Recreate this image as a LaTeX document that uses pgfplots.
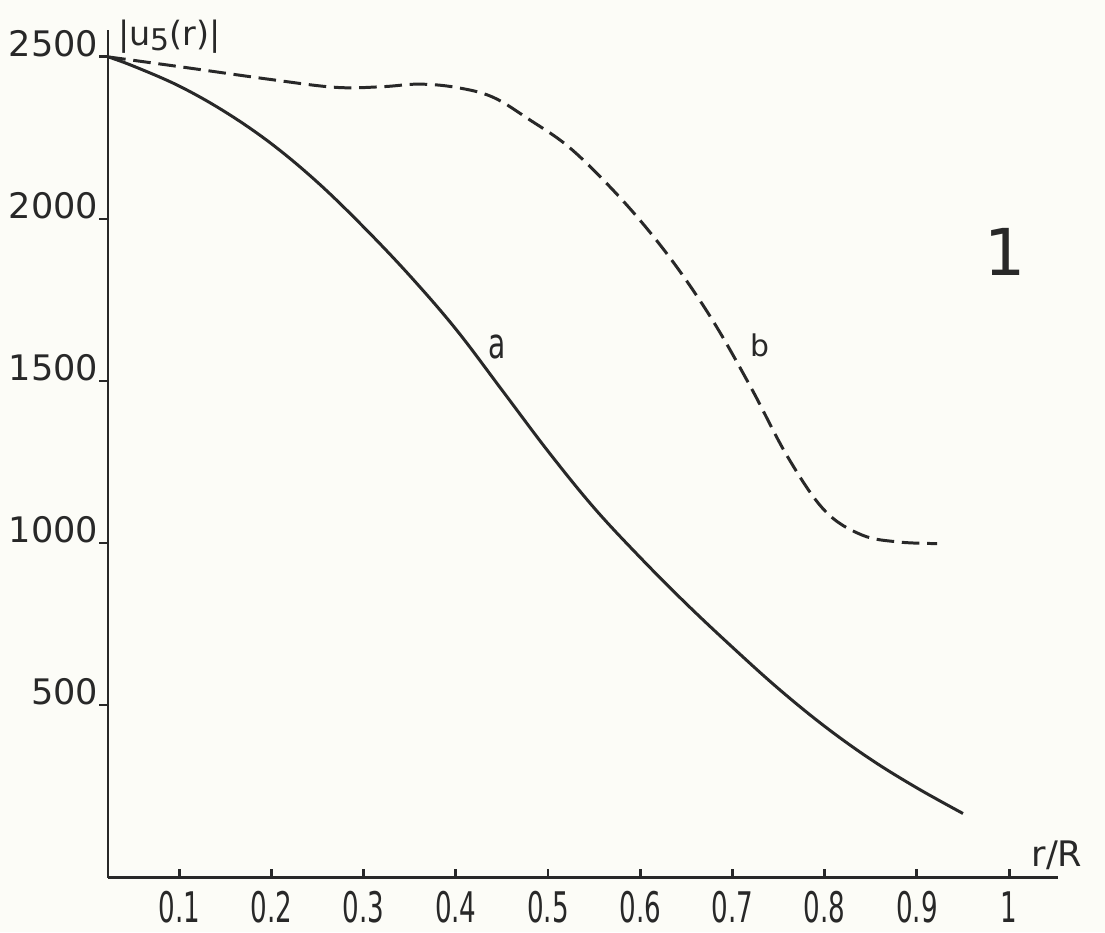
\documentclass[border=0pt]{standalone}
\usepackage{fontspec}
\setmainfont{DejaVu Sans}
\usepackage{pgfplots}
\pgfplotsset{compat=1.18}
\usetikzlibrary{backgrounds}
\definecolor{ink}{RGB}{40,40,40}
\definecolor{paper}{RGB}{252,252,247}

\begin{document}
\begin{tikzpicture}
\begin{axis}[
  scale only axis, width=9.5cm, height=8.48cm,
  xmin=0.0228, xmax=1.053, ymin=-34, ymax=2583,
  axis lines=left, axis line style={-, ink, line width=0.85pt},
  xtick={0.1,0.2,0.3,0.4,0.5,0.6,0.7,0.8,0.9,1},
  ytick={500,1000,1500,2000,2500},
  tick align=inside, major tick length=0.09cm,
  tick style={ink, line width=0.8pt},
  ytick style={xshift=-0.09cm},
  /pgf/number format/assume math mode=true,
  /pgf/number format/1000 sep={},
  scaled ticks=false,
  xticklabel={\scalebox{0.62}[1]{\pgfmathprintnumber{\tick}}},
  xticklabel style={font=\fontsize{12}{14}\selectfont, anchor=north, inner sep=0pt, yshift=-0.13cm, text=ink},
  yticklabel style={font=\fontsize{10}{12}\selectfont, anchor=base east, inner sep=0pt, xshift=-0.09cm, text=ink},
  clip=false
]
% curve a (solid)
\addplot[ink, line width=0.85pt, smooth, tension=0.6] coordinates {
  (0.023,2500) (0.05,2472) (0.10,2410) (0.15,2330) (0.20,2232)
  (0.25,2113) (0.30,1975) (0.35,1825) (0.40,1660) (0.45,1472)
  (0.50,1283) (0.55,1108) (0.60,955) (0.65,812) (0.70,678)
  (0.75,550) (0.80,434) (0.85,332) (0.90,244) (0.95,165)
};
% curve b (dashed)
\addplot[ink, line width=0.85pt, smooth, tension=0.6, dash pattern=on 5pt off 2.2pt] coordinates {
  (0.023,2500) (0.10,2470) (0.20,2430) (0.27,2406) (0.32,2408)
  (0.36,2416) (0.40,2406) (0.44,2376) (0.48,2306) (0.52,2228)
  (0.56,2120) (0.60,1995) (0.64,1850) (0.68,1680) (0.72,1480)
  (0.76,1265) (0.80,1100) (0.84,1025) (0.88,1003) (0.922,998)
};
\node[anchor=west, inner sep=0pt, font=\fontsize{9.5}{11}\selectfont, text=ink] at (axis cs:0.033,2562) {|u\raisebox{-0.25ex}{\fontsize{8.5}{9}\selectfont 5}(r)|};
\node[font=\fontsize{10}{12}\selectfont, text=ink] at (axis cs:1.052,37) {r/R};
\node[font=\fontsize{10}{12}\selectfont, text=ink] at (axis cs:0.4447,1605) {\scalebox{0.8}[1.2]{a}};
\node[font=\fontsize{8.5}{10}\selectfont, text=ink] at (axis cs:0.73,1611) {b};
\node[font=\fontsize{18.4}{20}\selectfont, text=ink] at (axis cs:0.9957,1898) {1};
\coordinate (bl) at (rel axis cs:-0.1137,-0.0637);
\coordinate (tr) at (rel axis cs:1.0495,1.0354);
\end{axis}
\pgfresetboundingbox
\useasboundingbox (bl) rectangle (tr);
\begin{scope}[on background layer]
  \fill[paper] (bl) rectangle (tr);
\end{scope}
\end{tikzpicture}
\end{document}
